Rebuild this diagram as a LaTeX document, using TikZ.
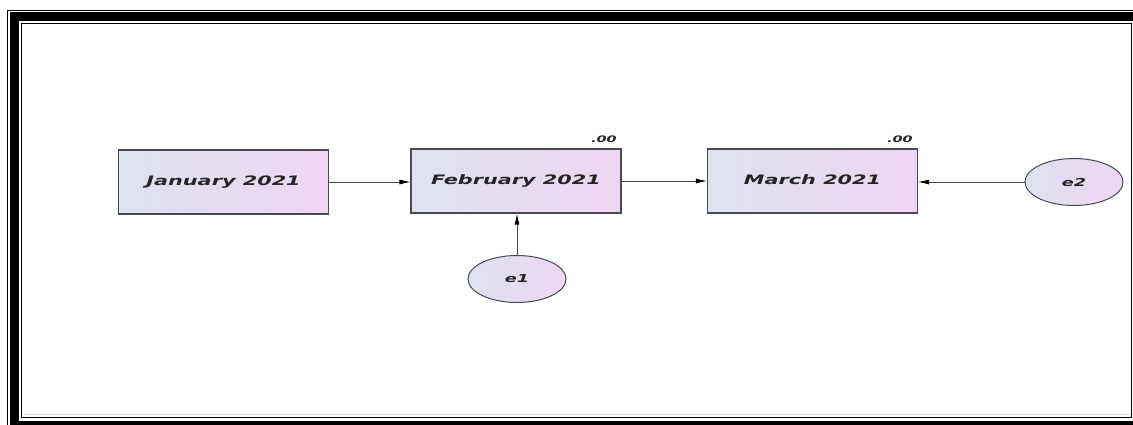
\documentclass[tikz,border=0pt]{standalone}
\usepackage{fontspec}
\newfontfamily\lbl[FakeStretch=1.6]{DejaVu Sans}
\usetikzlibrary{arrows.meta,shapes.geometric,shadings}
\definecolor{boxleft}{HTML}{DDE2EE}
\definecolor{boxright}{HTML}{EED6F2}
\definecolor{edgegray}{HTML}{4A4A55}
\tikzset{
  varbox/.style={draw=edgegray, line width=1.1pt, left color=boxleft, right color=boxright,
    minimum width=210pt, minimum height=64pt, inner sep=0pt, text height=9.5pt, text depth=2.5pt,
    font=\lbl\bfseries\itshape\fontsize{13}{15}\selectfont, text=black!85},
  errnode/.style={ellipse, draw=edgegray, line width=1pt, left color=boxleft, right color=boxright,
    minimum width=98pt, minimum height=47pt, inner sep=0pt,
    font=\lbl\bfseries\itshape\fontsize{11}{13}\selectfont, text=black!85},
  estlabel/.style={font=\lbl\bfseries\itshape\fontsize{9}{10}\selectfont, text=black!85, inner sep=0pt},
  path/.style={draw=edgegray, line width=0.8pt, -{Latex[length=11pt,width=5pt,fill=black,color=black]}},
  framethin/.style={line width=1.5pt, black},
  framethick/.style={line width=9pt, black}
}
\begin{document}
\begin{tikzpicture}[x=1pt,y=-1pt]
\useasboundingbox (0,0) rectangle (1133,425);
\fill[white] (0,0) rectangle (1133,425);
% frame
\draw[framethin] (1133,10.5) -- (7.5,10.5) -- (7.5,425);
\draw[framethick] (1133,17) -- (14.5,17) -- (14.5,425.5) -- (1133,425.5);
\draw[framethin] (21.5,417.5) -- (21.5,23.5) -- (1131.5,23.5) -- (1131.5,417.5) -- cycle;
\draw[gray!25, line width=1.5pt] (22.5,414.5) -- (1130.5,414.5);
% nodes
\node[varbox] (jan) at (223.5,182) {January 2021};
\node[varbox] (feb) at (516,181) {February 2021};
\node[varbox] (mar) at (812.5,181) {March 2021};
\node[errnode] (e1) at (517,279) {e1};
\node[errnode] (e2) at (1074,182) {e2};
\node[estlabel] (feb00) at (604,139) {.00};
\node[estlabel] (mar00) at (900,139.5) {.00};
% paths
\draw[path] (jan.east) -- (feb.west |- jan.east);
\draw[path] (feb.east) -- (mar.west |- feb.east);
\draw[path] (e2.west) -- (mar.east |- e2.west);
\draw[path] (e1.north) -- (e1.north |- feb.south);
\end{tikzpicture}
\end{document}
